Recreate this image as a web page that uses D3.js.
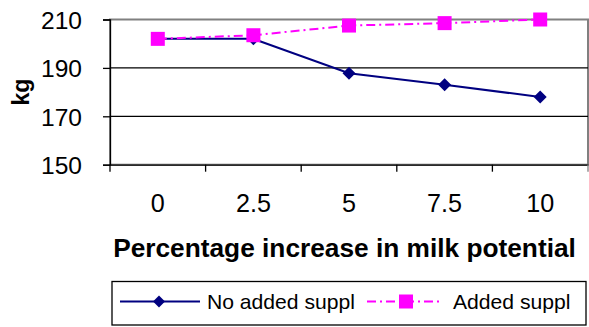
<!DOCTYPE html>
<html><head><meta charset="utf-8">
<script src="https://cdn.jsdelivr.net/npm/d3@7"></script>
<style>body{margin:0;background:#fff}svg{display:block}text{font-family:"Liberation Sans",Arial,sans-serif;fill:#000}</style>
</head><body>
<svg id="c" width="589" height="327"></svg>
<script>
const categories = ["0","2.5","5","7.5","10"];
const noAdded = [202, 202, 187.8, 183, 178];
const added = [202, 203.5, 207.5, 208.5, 210];
const yTicks = [150, 170, 190, 210];
const seriesNames = ["No added suppl", "Added suppl"];

const svg = d3.select("#c");
const L = 110, R = 588, T = 19.5, B = 164.7;
const x = d3.scaleBand().domain(categories).range([L, R]);
const y = d3.scaleLinear().domain([150, 210]).range([B, T]);

// fit a text node's font size to a target width
function fit(sel, w) {
  sel.each(function () {
    const fs = parseFloat(this.getAttribute("font-size"));
    const cur = this.getComputedTextLength();
    if (cur > 0) this.setAttribute("font-size", (fs * w / cur).toFixed(2));
  });
}

svg.append("rect").attr("x", L).attr("y", T).attr("width", R - L).attr("height", B - T)
  .attr("fill", "none").attr("stroke", "#808080").attr("stroke-width", 2);
svg.append("g").selectAll("line").data(yTicks.filter(d => d > 150 && d < 210)).join("line")
  .attr("x1", L).attr("x2", R).attr("y1", d => y(d)).attr("y2", d => y(d))
  .attr("stroke", "#000").attr("stroke-width", 1.3);

const ya = svg.append("g").attr("transform", `translate(${L},0)`)
  .call(d3.axisLeft(y).tickValues(yTicks).tickSize(7).tickPadding(21).tickFormat(d3.format("d")));
ya.select(".domain").attr("stroke", "#000").attr("stroke-width", 1.3);
ya.selectAll(".tick line").attr("stroke", "#000").attr("stroke-width", 1.3);
ya.selectAll("text").attr("font-size", 24).attr("font-family", "Liberation Sans, Arial, sans-serif").attr("dy", "0.36em");
fit(ya.selectAll("text").filter(d => d === 210), 41);
const yfs = ya.selectAll("text").filter(d => d === 210).attr("font-size");
ya.selectAll("text").attr("font-size", yfs);

const xa = svg.append("g").attr("transform", `translate(0,${B})`)
  .call(d3.axisBottom(x).tickSize(0).tickPadding(30));
xa.select(".domain").attr("stroke", "#000").attr("stroke-width", 1.3);
xa.selectAll("text").attr("font-size", 22).attr("font-family", "Liberation Sans, Arial, sans-serif").attr("dy", "0.36em").attr("y", 38.5);
fit(xa.selectAll("text").filter(d => d === "2.5"), 35);
const xfs = xa.selectAll("text").filter(d => d === "2.5").attr("font-size");
xa.selectAll("text").attr("font-size", xfs);

const bounds = categories.map(c => x(c)).concat([R]);
svg.append("g").selectAll("line").data(bounds).join("line")
  .attr("x1", d => d).attr("x2", d => d).attr("y1", B).attr("y2", B + 7)
  .attr("stroke", d => d === R ? "#808080" : "#000").attr("stroke-width", 1.3);

const xt = svg.append("text").attr("x", 344.5).attr("y", 248).attr("dy", "0.36em").attr("text-anchor", "middle")
  .attr("font-size", 22).attr("font-weight", "bold")
  .text("Percentage increase in milk potential");
fit(xt, 463);
const kg = svg.append("text").attr("transform", "translate(21,92) rotate(-90)").attr("dy", "0.36em").attr("text-anchor", "middle")
  .attr("font-size", 24).attr("font-weight", "bold").text("kg");
fit(kg, 27);

const cx = c => x(c) + x.bandwidth() / 2;
const line = d3.line().x((d, i) => cx(categories[i])).y(d => y(d));

svg.append("path").attr("d", line(noAdded)).attr("fill", "none").attr("stroke", "#000080").attr("stroke-width", 2);
const diamond = (px, py, s) => `M${px},${py - s}L${px + s},${py}L${px},${py + s}L${px - s},${py}Z`;
svg.append("g").selectAll("path").data(noAdded).join("path")
  .attr("d", (d, i) => diamond(cx(categories[i]), y(d), 6.5)).attr("fill", "#000080");

svg.append("path").attr("d", line(added)).attr("fill", "none").attr("stroke", "#FF00FF").attr("stroke-width", 2)
  .attr("stroke-dasharray", "9,4,2,4");
svg.append("g").selectAll("rect").data(added).join("rect")
  .attr("x", (d, i) => cx(categories[i]) - 7).attr("y", d => y(d) - 7)
  .attr("width", 14).attr("height", 14).attr("fill", "#FF00FF");

const lg = svg.append("g");
lg.append("rect").attr("x", 112).attr("y", 281.5).attr("width", 474).attr("height", 43.5)
  .attr("fill", "#fff").attr("stroke", "#000").attr("stroke-width", 1.3);
const ly = 301.5;
lg.append("line").attr("x1", 120).attr("x2", 200).attr("y1", ly).attr("y2", ly).attr("stroke", "#000080").attr("stroke-width", 2);
lg.append("path").attr("d", diamond(159, ly, 6)).attr("fill", "#000080");
const t1 = lg.append("text").attr("x", 207).attr("y", ly).attr("dy", "0.36em").attr("font-size", 20).text(seriesNames[0]);
fit(t1, 148);
lg.append("line").attr("x1", 367).attr("x2", 440).attr("y1", ly).attr("y2", ly).attr("stroke", "#FF00FF").attr("stroke-width", 2)
  .attr("stroke-dasharray", "9,4,2,4");
lg.append("rect").attr("x", 399).attr("y", ly - 7).attr("width", 14).attr("height", 14).attr("fill", "#FF00FF");
lg.append("text").attr("x", 453).attr("y", ly).attr("dy", "0.36em").attr("font-size", t1.attr("font-size")).text(seriesNames[1]);
</script>
</body></html>
